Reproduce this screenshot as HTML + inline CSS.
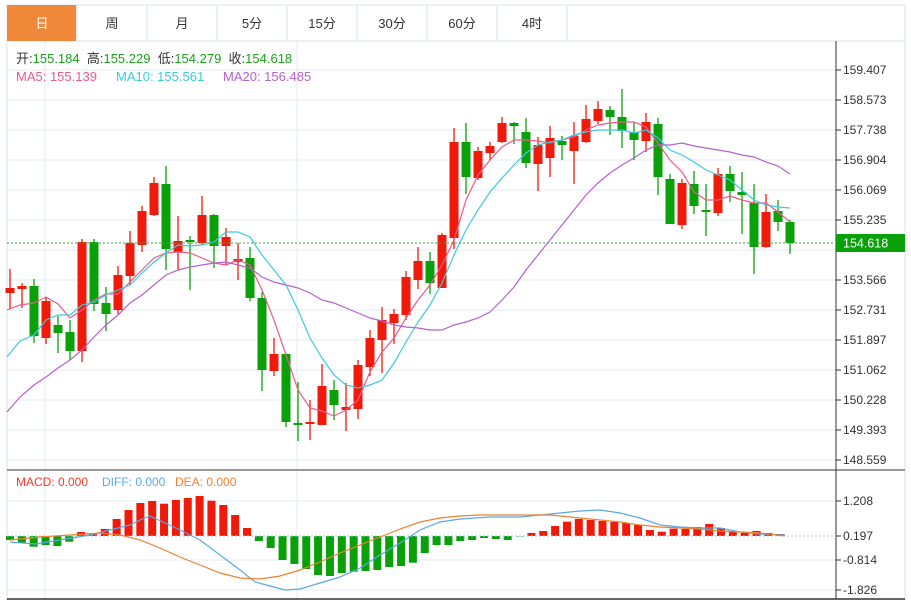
<!DOCTYPE html>
<html><head><meta charset="utf-8"><style>
body{margin:0;background:#fff;width:911px;height:602px;overflow:hidden;font-family:"Liberation Sans","Noto Sans CJK SC",sans-serif}
svg{position:absolute;left:0;top:0}
</style></head><body>
<svg id="s" width="911" height="602" xmlns="http://www.w3.org/2000/svg" font-family="Liberation Sans, Noto Sans CJK SC, sans-serif">
<rect x="0" y="0" width="911" height="602" fill="#fff"/>
<g id="g"></g>
</svg>
<script>
const NS="http://www.w3.org/2000/svg";const G=document.getElementById('g');
function el(t,a,txt){const e=document.createElementNS(NS,t);for(const k in a)e.setAttribute(k,a[k]);if(txt!==undefined)e.textContent=txt;G.appendChild(e);return e;}
// tabs
el('rect',{x:7,y:5,width:898,height:36,fill:'#fff',stroke:'#dde3ea'});
const tabs=['日','周','月','5分','15分','30分','60分','4时'];
tabs.forEach((t,i)=>{const x=7+i*70;
 if(i==0)el('rect',{x:7,y:5,width:69,height:36,fill:'#f0883a'});
 else el('line',{x1:x,y1:5,x2:x,y2:41,stroke:'#dde3ea'});
 el('text',{x:x+35,y:28,'text-anchor':'middle','font-size':13,fill:i==0?'#fff':'#333'},t);});
el('line',{x1:567,y1:5,x2:567,y2:41,stroke:'#dde3ea'});
// frame
el('line',{x1:7,y1:41,x2:7,y2:600,stroke:'#dde3ea'});
el('line',{x1:905,y1:41,x2:905,y2:600,stroke:'#dde3ea'});
// grid main
const lv=[[70,'159.407'],[100,'158.573'],[130,'157.738'],[160,'156.904'],[190,'156.069'],[220,'155.235'],[250,'154.400'],[280,'153.566'],[310,'152.731'],[340,'151.897'],[370,'151.062'],[400,'150.228'],[430,'149.393'],[460,'148.559']];
lv.forEach(([y,t])=>{el('line',{x1:7,y1:y,x2:836,y2:y,stroke:'#e3eaf1'});el('line',{x1:836,y1:y,x2:841,y2:y,stroke:'#333'});
 if(y!=250)el('text',{x:843,y:y+4,'font-size':12,fill:'#333'},t);});
[45,297].forEach(x=>{el('line',{x1:x,y1:41,x2:x,y2:600,stroke:'#e3eaf1'});});
// macd grid
[[501,'1.208'],[536,'0.197'],[560,'-0.814'],[590,'-1.826']].forEach(([y,t])=>{if(y!=536)el('line',{x1:7,y1:y,x2:836,y2:y,stroke:'#e3eaf1'});el('line',{x1:836,y1:y,x2:841,y2:y,stroke:'#333'});el('text',{x:843,y:y+4,'font-size':12,fill:'#333'},t);});
el('line',{x1:7,y1:470,x2:905,y2:470,stroke:'#333'});
el('line',{x1:7,y1:599,x2:905,y2:599,stroke:'#333','stroke-width':1.5});
el('line',{x1:836,y1:41,x2:836,y2:599,stroke:'#333'});
// candles [o_y,c_y,h_y,l_y] red if close above
const C=[[293,288,269,309,1],[289,286,283,308,1],[286,336,279,343,0],[338,301,297,344,1],[325,333,316,353,0],[332,351,320,360,0],[351,242,239,362,1],[242,304,239,311,0],[303,314,287,331,0],[310,275,266,314,1],[276,243,231,285,1],[245,211,206,252,1],[215,183,177,216,1],[184,249,166,270,0],[252,241,216,270,1],[240,242,236,290,0],[243,215,196,245,1],[215,246,214,268,0],[246,237,228,265,1],[262,259,243,280,1],[258,298,247,301,0],[298,370,292,391,0],[371,354,338,376,1],[354,422,353,427,0],[423,425,382,441,0],[424,422,400,440,1],[425,386,364,425,1],[390,405,380,420,0],[410,407,383,431,1],[409,365,360,419,1],[367,338,330,376,1],[340,320,307,373,1],[323,314,309,344,1],[315,277,271,320,1],[280,261,247,289,1],[261,283,252,294,0],[288,235,233,288,1],[238,142,128,249,1],[142,177,123,194,0],[178,151,147,180,1],[153,146,142,160,1],[142,123,117,143,1],[123,126,122,144,0],[132,163,118,168,0],[164,145,137,191,1],[158,138,126,177,1],[141,145,136,160,0],[151,136,122,184,1],[142,119,105,143,1],[121,109,101,124,1],[110,117,106,135,0],[117,131,89,148,0],[132,140,122,160,0],[141,122,113,152,1],[124,177,118,195,0],[179,224,174,224,0],[225,183,179,229,1],[184,206,171,214,0],[210,212,184,236,0],[213,174,168,216,1],[174,191,166,202,0],[192,195,172,234,0],[203,247,184,274,0],[247,212,194,248,1],[211,222,200,231,0],[222,243,220,254,0]];
C.forEach((c,i)=>{const x=10+12*i;const col=c[4]?'#f01a0a':'#0aa00a';
 el('line',{x1:x,y1:c[2],x2:x,y2:c[3],stroke:col,'stroke-width':1.3});
 const t=Math.min(c[0],c[1]),h=Math.max(2,Math.abs(c[0]-c[1]));
 el('rect',{x:x-4.5,y:t,width:9,height:h,fill:col});});
function pl(pts,col,w){el('polyline',{points:pts.map(p=>p.join(',')).join(' '),fill:'none',stroke:col,'stroke-width':w||1.2});}
const xs=i=>i;
pl([[7,310],[20,305],[34,303],[46,297],[58,304],[70,318],[82,310],[94,300],[106,294],[118,294],[130,282],[142,270],[154,258],[166,253],[178,252],[190,253],[202,258],[214,263],[226,265],[238,260],[250,265],[262,290],[274,320],[286,355],[298,390],[310,408],[322,411],[334,416],[346,410],[358,400],[370,372],[382,352],[394,338],[406,318],[418,300],[430,285],[442,265],[454,240],[466,200],[478,175],[490,160],[502,147],[514,140],[526,140],[538,141],[550,143],[562,140],[574,137],[586,130],[598,125],[610,123],[622,122],[634,122],[646,127],[658,143],[670,160],[682,172],[694,192],[706,200],[718,200],[730,196],[742,200],[754,203],[766,203],[778,212],[790,222]],'#ec5a8a');
pl([[7,357],[20,341],[34,335],[46,320],[58,315],[70,315],[82,305],[94,302],[106,295],[118,290],[130,285],[142,273],[154,262],[166,253],[178,245],[190,246],[202,245],[214,242],[226,232],[238,232],[250,237],[262,255],[274,270],[286,285],[298,310],[310,338],[322,358],[334,375],[346,385],[358,388],[370,385],[382,380],[394,363],[406,342],[418,322],[430,305],[442,283],[454,255],[466,230],[478,210],[490,192],[502,178],[514,165],[526,153],[538,145],[550,142],[562,140],[574,135],[586,132],[598,130],[610,130],[622,130],[634,133],[646,130],[658,138],[670,150],[682,155],[694,162],[706,170],[718,175],[730,180],[742,190],[754,200],[766,205],[778,207],[790,208]],'#3ccbe0');
pl([[7,412],[20,397],[34,385],[46,377],[58,368],[70,360],[82,350],[94,337],[106,325],[118,315],[130,303],[142,295],[154,285],[166,275],[178,270],[190,267],[202,265],[214,263],[226,262],[238,265],[250,268],[262,277],[274,282],[286,285],[298,288],[310,293],[322,300],[334,303],[346,308],[358,313],[370,318],[382,321],[394,325],[406,327],[418,328],[430,330],[442,330],[454,325],[466,322],[478,318],[490,312],[502,300],[514,287],[526,270],[538,255],[550,240],[562,225],[574,210],[586,195],[598,183],[610,173],[622,165],[634,158],[646,150],[658,145],[670,145],[682,143],[694,146],[706,148],[718,150],[730,152],[742,155],[754,157],[766,162],[778,166],[790,174]],'#b562cc');
// current price
el('line',{x1:7,y1:243,x2:836,y2:243,stroke:'#3aa83a','stroke-dasharray':'2,2'});
el('rect',{x:836,y:234,width:69,height:18,fill:'#0aa00a'});
el('text',{x:843,y:247.5,'font-size':12.5,fill:'#fff'},'154.618');
// legend
let t=el('text',{x:16,y:63,'font-size':13,fill:'#333'});
t.innerHTML='开:<tspan fill="#1aa01a">155.184</tspan>  高:<tspan fill="#1aa01a">155.229</tspan>  低:<tspan fill="#1aa01a">154.279</tspan>  收:<tspan fill="#1aa01a">154.618</tspan>';
t.setAttribute('xml:space','preserve');t.style.whiteSpace='pre';
el('text',{x:16,y:81,'font-size':13,fill:'#ec5a8a'},'MA5: 155.139');
el('text',{x:116,y:81,'font-size':13,fill:'#3ccbe0'},'MA10: 155.561');
el('text',{x:223,y:81,'font-size':13,fill:'#b562cc'},'MA20: 156.485');
el('text',{x:16,y:486,'font-size':12,fill:'#f03a2a'},'MACD: 0.000');
el('text',{x:102,y:486,'font-size':12,fill:'#5aa9e6'},'DIFF: 0.000');
el('text',{x:175,y:486,'font-size':12,fill:'#f08030'},'DEA: 0.000');
// macd bars
const M=[540,542.7,546.7,545,546,541.7,532,533,529,519,510,503,501,503.7,500,498,496,500.7,505,515,528,541,548,560,564,569,575,576,573,571.7,571,570,567,566,562.7,553,545,545,541,540,538,539,540,536.5,533,531,526,521.7,519,520,521,522,523,525,530,531.7,528.7,529,527,524,528,531.7,533,531,533,534];
const z=536;
M.forEach((y,i)=>{const x=10+11.85*i;const up=y<z;el('rect',{x:x-4,y:Math.min(y,z),width:8,height:Math.max(0.5,Math.abs(y-z)),fill:up?'#f01a0a':'#0aa00a'});});
el('line',{x1:7,y1:z,x2:836,y2:z,stroke:'#9fd6e6','stroke-dasharray':'2,2'});
pl([[10,542],[35,544],[60,540],[90,535],[110,530],[130,525],[140,520],[150,516],[165,523],[180,530],[200,540],[220,555],[240,570],[255,582],[270,586],[285,590],[300,589],[320,583],[340,577],[360,568],[380,555],[400,543],[420,530],[440,522],[460,519],[490,517],[520,517],[550,514],[580,511],[600,510],[620,513],[640,518],[660,525],[680,527],[700,528],[720,528],[740,532],[760,534],[785,535]],'#5aa9e6');
pl([[10,540],[40,537],[70,535],[100,533],[120,535],[140,540],[160,548],[180,557],[200,565],[220,573],[240,578],[260,579],[280,576],[300,570],[320,562],[340,553],[360,545],[380,537],[400,529],[420,522],[440,518],[460,516],[480,515],[520,515],[550,515],[580,518],[600,520],[620,522],[640,525],[660,527],[680,528],[700,529],[720,531],[760,533],[785,536]],'#f08030');
</script>
</body></html>
